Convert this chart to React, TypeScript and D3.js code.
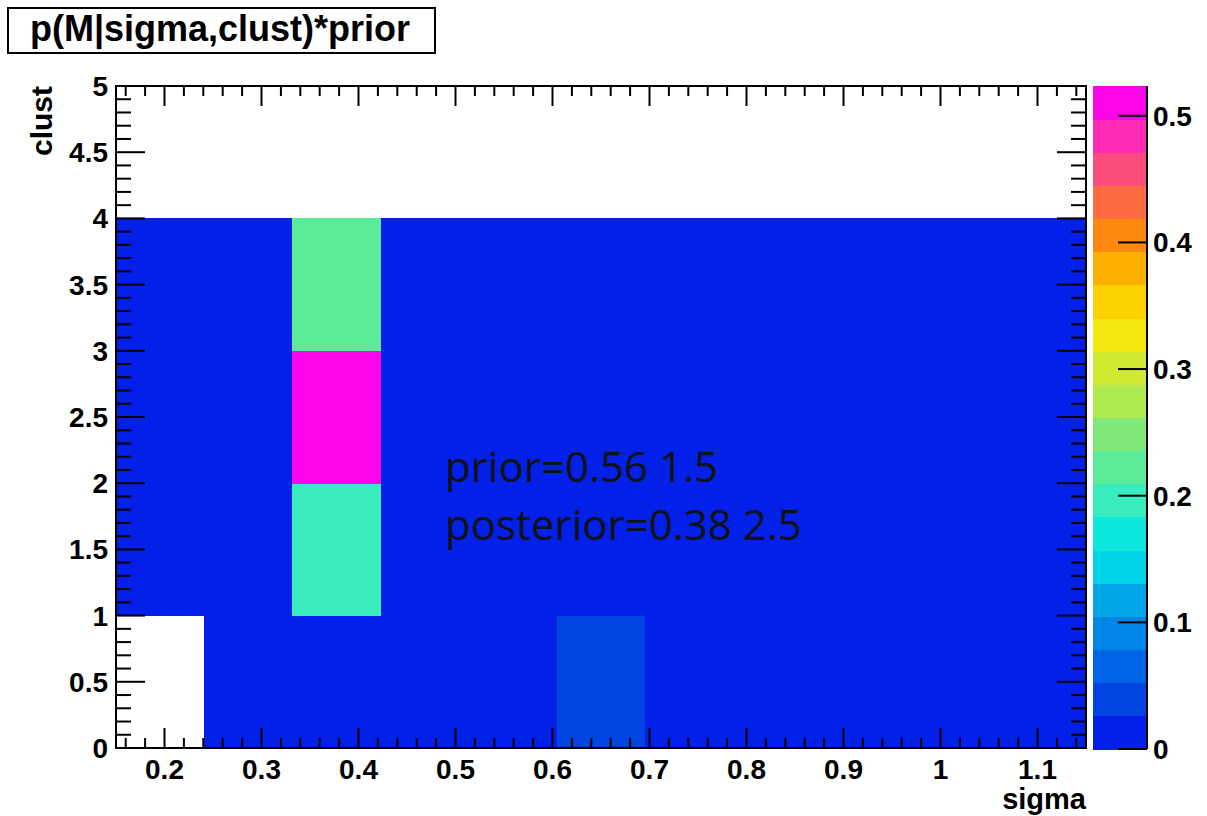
import React, { useEffect, useRef } from 'react';
import * as d3 from 'd3';

// sigma bins: 11 bins between 0.15 and 1.15
const sigmaEdges = [0.15, 0.2409, 0.3318, 0.4227, 0.5136, 0.6045, 0.6955, 0.7864, 0.8773, 0.9682, 1.0591, 1.15];
// clust bins
const clustEdges = [0, 1, 2, 3, 4];

// cell contents per clust row (value 0 = empty, not drawn)
const clust0 = [0, 0.003, 0.004, 0.002, 0.002, 0.04, 0.002, 0.001, 0.001, 0.001, 0.001];
const clust1 = [0.002, 0.004, 0.195, 0.003, 0.002, 0.003, 0.002, 0.001, 0.001, 0.001, 0.001];
const clust2 = [0.002, 0.005, 0.5235, 0.004, 0.002, 0.002, 0.001, 0.001, 0.001, 0.001, 0.001];
const clust3 = [0.001, 0.003, 0.222, 0.002, 0.001, 0.001, 0.001, 0.001, 0.001, 0.001, 0.001];
const rows = [clust0, clust1, clust2, clust3];

const zMax = 0.5235;
// 20 contour colours, bottom (0) to top
const palette = [
  '#0220E8', '#0044E2', '#0064E6', '#0084E6', '#00A6E6', '#00D4E6', '#0CE8DC', '#38ECBE',
  '#5CEB98', '#80E878', '#AEEA50', '#D0E832', '#F4E80E', '#FDD000', '#FDB000', '#FC8810',
  '#FC6C40', '#FC4C7C', '#FC2AB4', '#FC04E8',
];

const xTicks = [0.2, 0.3, 0.4, 0.5, 0.6, 0.7, 0.8, 0.9, 1.0, 1.1];
const yTicks = [0, 0.5, 1, 1.5, 2, 2.5, 3, 3.5, 4, 4.5, 5];
const zTicks = [0, 0.1, 0.2, 0.3, 0.4, 0.5];

const titleText = 'p(M|sigma,clust)*prior';
const notes = ['prior=0.56 1.5', 'posterior=0.38 2.5'];

const W = 1207;
const H = 816;

const App = () => {
  const ref = useRef<SVGSVGElement | null>(null);

  useEffect(() => {
    const svg = d3.select(ref.current);
    svg.selectAll('*').remove();

    const font = '"Liberation Sans", Arial, sans-serif';
    const left = 116, right = 1086, top = 86, bottom = 748;

    const x = d3.scaleLinear().domain([0.15, 1.15]).range([left, right]);
    const y = d3.scaleLinear().domain([0, 5]).range([bottom, top]);
    const color = d3.scaleQuantize<string>().domain([0, zMax]).range(palette);

    svg.append('rect').attr('width', W).attr('height', H).attr('fill', '#fff');

    // cells
    const g = svg.append('g').attr('shape-rendering', 'crispEdges');
    rows.forEach((row, j) => {
      row.forEach((v, i) => {
        if (v <= 0) return;
        g.append('rect')
          .attr('x', x(sigmaEdges[i]))
          .attr('y', y(clustEdges[j + 1]))
          .attr('width', x(sigmaEdges[i + 1]) - x(sigmaEdges[i]) + 0.5)
          .attr('height', y(clustEdges[j]) - y(clustEdges[j + 1]) + 0.5)
          .attr('fill', color(Math.min(v, zMax - 1e-9)));
      });
    });

    // ticks
    const xMinor = d3.range(0.16, 1.15, 0.02).map(d => +d.toFixed(2));
    const yMinor = d3.range(0, 5.001, 0.1).map(d => +d.toFixed(1));
    const tk = svg.append('g').attr('stroke', '#000').attr('stroke-width', 2);
    xMinor.forEach(d => {
      const major = xTicks.some(t => Math.abs(t - d) < 1e-6);
      const len = major ? 20 : 10;
      tk.append('line').attr('x1', x(d)).attr('x2', x(d)).attr('y1', bottom).attr('y2', bottom - len);
      tk.append('line').attr('x1', x(d)).attr('x2', x(d)).attr('y1', top).attr('y2', top + len);
    });
    yMinor.forEach(d => {
      const major = yTicks.some(t => Math.abs(t - d) < 1e-6);
      const len = major ? 29 : 15;
      tk.append('line').attr('x1', left).attr('x2', left + len).attr('y1', y(d)).attr('y2', y(d));
      tk.append('line').attr('x1', right).attr('x2', right - len).attr('y1', y(d)).attr('y2', y(d));
    });

    // frame
    svg.append('rect')
      .attr('x', left).attr('y', top)
      .attr('width', right - left).attr('height', bottom - top)
      .attr('fill', 'none').attr('stroke', '#000').attr('stroke-width', 2);

    // tick labels
    svg.append('g').selectAll('text').data(xTicks).join('text')
      .attr('x', d => x(d)).attr('y', 779)
      .attr('text-anchor', 'middle')
      .style('font-family', font).style('font-weight', 'bold').style('font-size', '28px')
      .text(d => String(+d.toFixed(1)));

    svg.append('g').selectAll('text').data(yTicks).join('text')
      .attr('x', 108).attr('y', d => y(d) + 10)
      .attr('text-anchor', 'end')
      .style('font-family', font).style('font-weight', 'bold').style('font-size', '28px')
      .text(d => String(d));

    // axis titles
    svg.append('text')
      .attr('x', 1086).attr('y', 809)
      .attr('text-anchor', 'end')
      .style('font-family', font).style('font-weight', 'bold').style('font-size', '29px')
      .text('sigma');

    svg.append('text')
      .attr('transform', 'translate(52,86) rotate(-90)')
      .attr('text-anchor', 'end')
      .style('font-family', font).style('font-weight', 'bold').style('font-size', '30px')
      .text('clust');

    // colour bar
    const zl = 1093, zr = 1147;
    const z = d3.scaleLinear().domain([0, zMax]).range([749, 86]);
    const step = zMax / palette.length;
    svg.append('g').attr('shape-rendering', 'crispEdges').selectAll('rect').data(palette).join('rect')
      .attr('x', zl)
      .attr('y', (_, i) => z((i + 1) * step))
      .attr('width', zr - zl)
      .attr('height', (_, i) => z(i * step) - z((i + 1) * step) + 0.5)
      .attr('fill', d => d);

    svg.append('line')
      .attr('x1', zr).attr('x2', zr).attr('y1', 86).attr('y2', 749)
      .attr('stroke', '#000').attr('stroke-width', 2);

    svg.append('g').selectAll('line').data(zTicks).join('line')
      .attr('x1', zr - 29).attr('x2', zr)
      .attr('y1', d => z(d)).attr('y2', d => z(d))
      .attr('stroke', '#000').attr('stroke-width', 2);

    svg.append('g').selectAll('text').data(zTicks).join('text')
      .attr('x', 1153).attr('y', d => z(d) + 10)
      .style('font-family', font).style('font-weight', 'bold').style('font-size', '28px')
      .text(d => String(+d.toFixed(1)));

    // title box
    svg.append('rect')
      .attr('x', 8).attr('y', 8).attr('width', 427).attr('height', 45)
      .attr('fill', '#fff').attr('stroke', '#000').attr('stroke-width', 2);
    svg.append('text')
      .attr('x', 220).attr('y', 41)
      .attr('text-anchor', 'middle')
      .style('font-family', font).style('font-weight', 'bold').style('font-size', '36px')
      .text(titleText);

    // annotation
    svg.append('g').selectAll('text').data(notes).join('text')
      .attr('x', 445).attr('y', (_, i) => 482 + i * 58)
      .style('font-family', '"Open Sans", sans-serif').style('font-size', '42px')
      .attr('fill', '#111')
      .text(d => d);
  }, []);

  return (
    <svg ref={ref} width={W} height={H} style={{ position: 'absolute', left: 0, top: 0 }} />
  );
};

export default App;
